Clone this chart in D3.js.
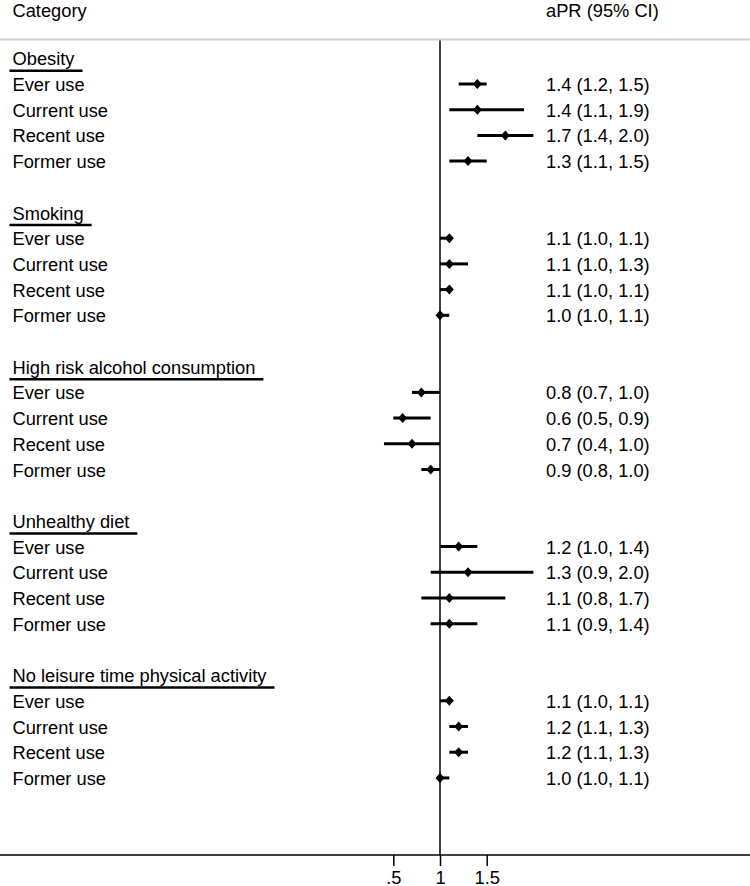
<!DOCTYPE html>
<html>
<head>
<meta charset="utf-8">
<script src="https://cdn.jsdelivr.net/npm/d3@7"></script>
<style>
  html, body { margin: 0; padding: 0; background: #fff; }
  svg { display: block; }
  text { font-family: "Liberation Sans", Arial, Helvetica, sans-serif; font-size: 18.3px; fill: #000; }
</style>
</head>
<body>
<svg id="chart" width="750" height="886"></svg>
<script>
// ---- Data ----
const groups = ["Obesity", "Smoking", "High risk alcohol consumption", "Unhealthy diet", "No leisure time physical activity"];
const uses = ["Ever use", "Current use", "Recent use", "Former use"];
// estimates (aPR) per group, in order of `uses`
const estimates = [
  [1.4, 1.4, 1.7, 1.3],
  [1.1, 1.1, 1.1, 1.0],
  [0.8, 0.6, 0.7, 0.9],
  [1.2, 1.3, 1.1, 1.1],
  [1.1, 1.2, 1.2, 1.0]
];
const lowerCI = [
  [1.2, 1.1, 1.4, 1.1],
  [1.0, 1.0, 1.0, 1.0],
  [0.7, 0.5, 0.4, 0.8],
  [1.0, 0.9, 0.8, 0.9],
  [1.0, 1.1, 1.1, 1.0]
];
const upperCI = [
  [1.5, 1.9, 2.0, 1.5],
  [1.1, 1.3, 1.1, 1.1],
  [1.0, 0.9, 1.0, 1.0],
  [1.4, 2.0, 1.7, 1.4],
  [1.1, 1.3, 1.3, 1.1]
];
const xTicks = [0.5, 1, 1.5];
const xTickLabels = [".5", "1", "1.5"];
const headerLeft = "Category";
const headerRight = "aPR (95% CI)";

// ---- Build rows ----
const rows = [];
groups.forEach((g, gi) => {
  rows.push({ type: "header", label: g, idx: gi * 6 });
  uses.forEach((u, ui) => {
    rows.push({
      type: "item", label: u, idx: gi * 6 + 1 + ui,
      est: estimates[gi][ui], lo: lowerCI[gi][ui], hi: upperCI[gi][ui]
    });
  });
});

const fmt = d3.format(".1f");
const W = 750, H = 886;
const svg = d3.select("#chart");

const x = d3.scaleLinear().domain([0.5, 1.5]).range([393.3, 486.7]);
const y = d3.scaleLinear().domain([0, 31]).range([58.3, 855]);

const textX = 12.5, valueX = 546;
const topLineY = 39.5;
const axisY = y(31);

// header texts
svg.append("text").attr("x", textX).attr("y", 17).text(headerLeft);
svg.append("text").attr("x", valueX).attr("y", 17).text(headerRight);

// top gray rule
svg.append("line")
  .attr("x1", 0).attr("x2", W).attr("y1", topLineY).attr("y2", topLineY)
  .attr("stroke", "#cfcfcf").attr("stroke-width", 2);

// reference line at 1
svg.append("line")
  .attr("x1", x(1)).attr("x2", x(1)).attr("y1", topLineY + 1).attr("y2", axisY)
  .attr("stroke", "#000").attr("stroke-width", 1.5);

// axis
const axisG = svg.append("g").attr("transform", `translate(0,${axisY})`);
axisG.append("line").attr("x1", 0).attr("x2", W).attr("y1", 0).attr("y2", 0)
  .attr("stroke", "#000").attr("stroke-width", 1.5);
const xAxis = d3.axisBottom(x).tickValues(xTicks)
  .tickFormat((d, i) => xTickLabels[i]).tickSize(11).tickPadding(5);
const ax = svg.append("g").attr("transform", `translate(0,${axisY})`).call(xAxis);
ax.select(".domain").remove();
ax.selectAll(".tick line").attr("stroke", "#000").attr("stroke-width", 1.5);
ax.selectAll(".tick text")
  .attr("font-family", "Liberation Sans, Arial, sans-serif")
  .attr("font-size", 18.3).attr("fill", "#000").attr("dy", "0.71em");

// row labels
const rowG = svg.append("g");
rows.forEach(r => {
  const t = rowG.append("text").attr("x", textX).attr("y", y(r.idx) + 7).text(r.label);
  if (r.type === "header") {
    const len = t.node().getComputedTextLength();
    rowG.append("line")
      .attr("x1", 9.5).attr("x2", textX + len + 8)
      .attr("y1", y(r.idx) + 12.5).attr("y2", y(r.idx) + 12.5)
      .attr("stroke", "#000").attr("stroke-width", 2.5);
  }
});

// CIs and points
const items = rows.filter(r => r.type === "item");
svg.append("g").selectAll("line").data(items).join("line")
  .attr("x1", d => x(d.lo)).attr("x2", d => x(d.hi))
  .attr("y1", d => y(d.idx)).attr("y2", d => y(d.idx))
  .attr("stroke", "#000").attr("stroke-width", 3);

const diamond = (cx, cy) => {
  const p = d3.path();
  p.moveTo(cx, cy - 5); p.lineTo(cx + 4.5, cy); p.lineTo(cx, cy + 5); p.lineTo(cx - 4.5, cy); p.closePath();
  return p.toString();
};
svg.append("g").selectAll("path").data(items).join("path")
  .attr("d", d => diamond(x(d.est), y(d.idx)))
  .attr("fill", "#000");

// values text
svg.append("g").selectAll("text").data(items).join("text")
  .attr("x", valueX).attr("y", d => y(d.idx) + 7)
  .text(d => `${fmt(d.est)} (${fmt(d.lo)}, ${fmt(d.hi)})`);
</script>
</body>
</html>
